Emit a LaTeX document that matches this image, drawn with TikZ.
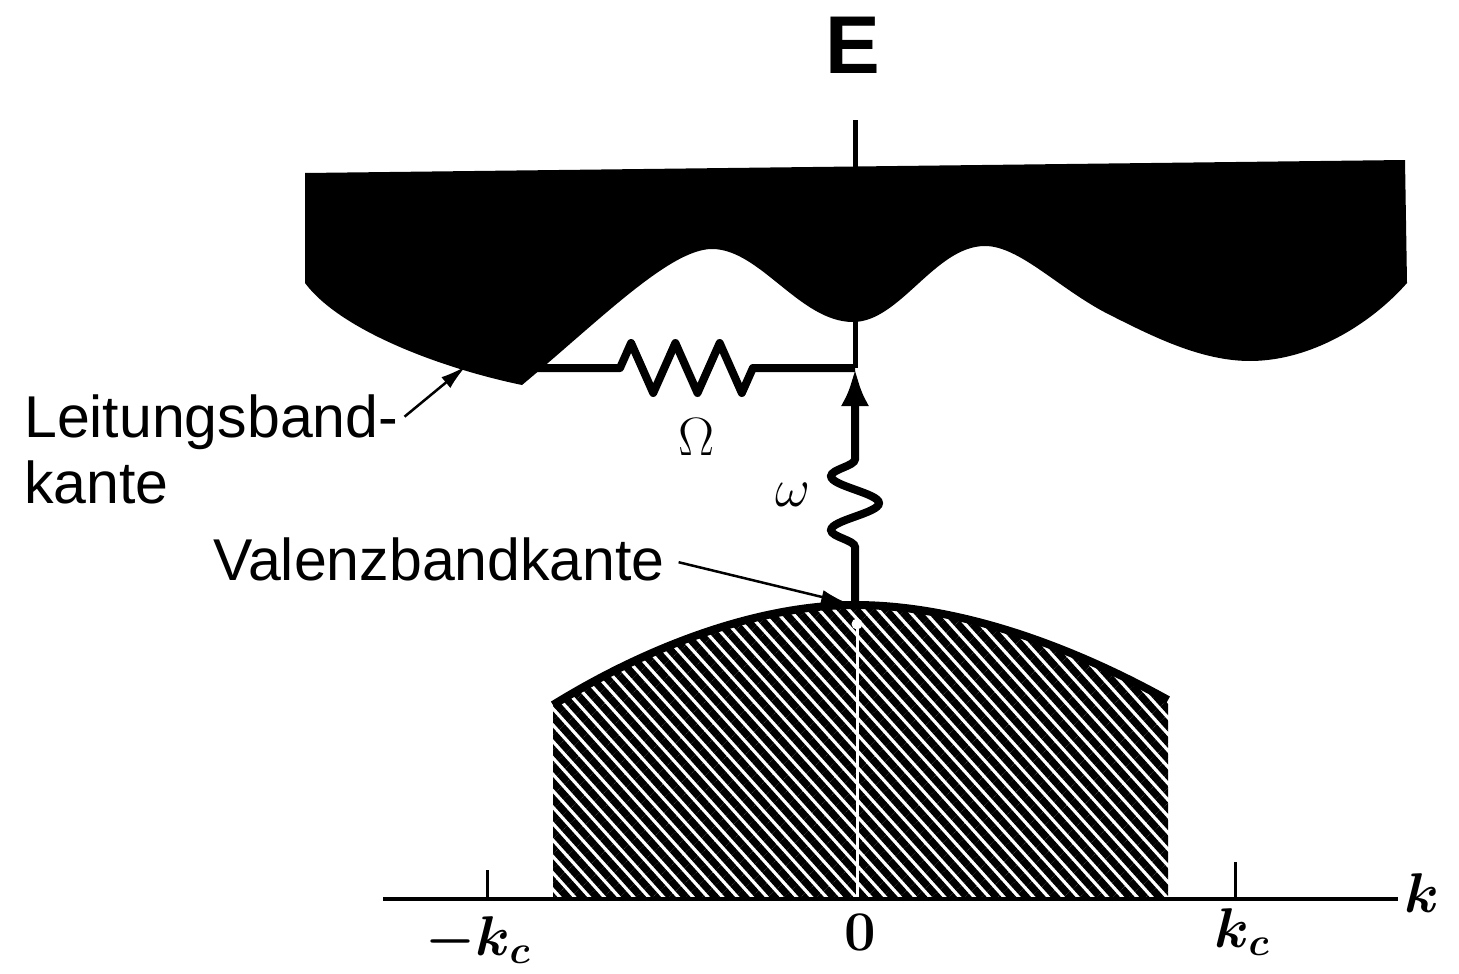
\RequirePackage{fix-cm}
\documentclass[tikz,border=0pt]{standalone}
\usepackage{amsmath}
\usepackage[no-math]{fontspec}
\newfontfamily\lblfont{Liberation Sans}
\usetikzlibrary{positioning, arrows.meta, decorations.pathmorphing, patterns.meta}

\begin{document}
\begin{tikzpicture}[
    x=1pt, y=-1pt,
    >=Latex,
    lbl/.style={font=\lblfont\fontsize{59}{66}\selectfont, inner sep=0pt},
    mlbl/.style={font=\fontsize{54}{60}\selectfont, inner sep=0pt},
    klbl/.style={font=\fontsize{56}{60}\selectfont\boldmath, inner sep=0pt},
    band/.style={fill=black},
    hatch/.style={pattern={Lines[angle=-48, distance=11pt, line width=7.5pt]}, pattern color=black},
    spring/.style={line width=8pt, line join=round, decorate,
        decoration={zigzag, segment length=44.3pt, amplitude=25pt, pre length=98pt, post length=102pt}},
    wiggle/.style={line width=8pt, decorate,
        decoration={snake, segment length=54pt, amplitude=24pt, pre length=58pt, post length=71pt}},
    ptr/.style={->, line width=2.5pt, >={Latex[length=26pt, width=14pt]}},
    axis/.style={line width=4pt}
]
    \useasboundingbox (0,0) rectangle (1459,974);

    \coordinate (etop) at (855,120);
    \coordinate (gam) at (855,368);
    \coordinate (cbmin) at (522,368);
    \coordinate (cbedge) at (466,366);
    \coordinate (vbtop) at (855,605);
    \coordinate (vbl) at (553,705);
    \coordinate (vbr) at (1168,700);
    \coordinate (korig) at (383,899);
    \coordinate (kend) at (1398,899);
    \coordinate (kmin) at (487,899);
    \coordinate (kmax) at (1235,899);

    \node[font=\lblfont\bfseries\fontsize{82}{90}\selectfont, inner sep=0pt] (elab) at (853,45) {E};

    \fill[band] (305,173) -- (1405,160) -- (1407,283)
        .. controls (1370,325) and (1310,361) .. (1250,361)
        .. controls (1200,361) and (1150,335) .. (1110,315)
        .. controls (1060,290) and (1020,246) .. (985,246)
        .. controls (935,246) and (900,322) .. (853,322)
        .. controls (800,322) and (760,249) .. (712,249)
        .. controls (670,249) and (600,320) .. (522,385)
        .. controls (440,368) and (340,330) .. (305,283) -- cycle;

    \fill[hatch] (553,899) -- (vbl) .. controls (650,645) and (760,605) .. (vbtop)
        .. controls (950,605) and (1060,640) .. (vbr) -- (1168,899) -- cycle;
    \draw[white, line width=3pt] (857,628) -- (857,897);
    \node[circle, fill=white, inner sep=0pt, minimum size=11pt] (vbdot) at (857,624) {};
    \draw[line width=8pt] (vbl) .. controls (650,645) and (760,605) .. (vbtop)
        .. controls (950,605) and (1060,640) .. (vbr);

    \draw[axis] (korig) -- (kend);
    \draw[line width=3pt] (kmin) -- ++(0,-29);
    \draw[line width=3pt] (kmax) -- ++(0,-37);

    \draw[line width=5pt] (etop) -- (gam);
    \draw[spring] (cbmin) -- (gam);
    \draw[wiggle, -{Latex[length=38pt, width=28pt]}] (vbtop) -- (gam);

    \node[mlbl] (om) at (697,437) {$\Omega$};
    \node[mlbl] (omsm) at (793,495) {$\omega$};

    \node[lbl, anchor=base west] (leit) at (24,437) {Leitungsband-};
    \node[lbl, anchor=base west] (leitk) at ([yshift=-66pt]leit.base west) {kante};
    \node[lbl, anchor=base west] (val) at (213,580) {Valenzbandkante};

    \draw[ptr, shorten <=8pt] (leit.east) -- (cbedge);
    \draw[ptr, shorten <=14pt, shorten >=8pt] (val.east) -- (vbtop);

    \node[klbl] (mkc) at (478,940) {$-k_c$};
    \node[klbl] (zero) at (860,932) {$0$};
    \node[klbl] (kc) at (1242,932) {$k_c$};
    \node[klbl] (klab) at (1422,893) {$k$};
\end{tikzpicture}
\end{document}
